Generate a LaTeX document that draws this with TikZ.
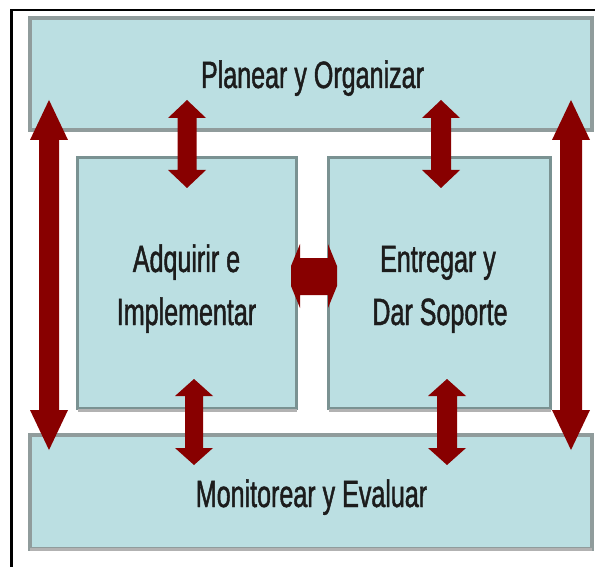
\documentclass[tikz,border=0pt]{standalone}
\usepackage{fontspec}
\newfontfamily\lblfont[FakeStretch=0.66,FakeBold=1.2]{Liberation Sans}
\definecolor{boxfill}{HTML}{BBDFE2}
\definecolor{outeredge}{HTML}{909C9C}
\definecolor{inneredge}{HTML}{7A9292}
\definecolor{shadowgray}{HTML}{B2B2B2}
\definecolor{arrowred}{HTML}{880000}
\definecolor{txt}{HTML}{1C1C1C}
\newcommand{\vdblarrow}[6]{%
  \fill[arrowred] (#1,#2) -- (#1+#5,#2+#6) -- (#1+#4,#2+#6) -- (#1+#4,#3-#6)
    -- (#1+#5,#3-#6) -- (#1,#3) -- (#1-#5,#3-#6) -- (#1-#4,#3-#6)
    -- (#1-#4,#2+#6) -- (#1-#5,#2+#6) -- cycle;}
\tikzset{
  outerbox/.style={rectangle, fill=boxfill, draw=outeredge, line width=4pt, inner sep=0pt, outer sep=0pt},
  innerbox/.style={rectangle, fill=boxfill, draw=inneredge, line width=3pt, inner sep=0pt, outer sep=0pt},
  shadowline/.style={draw=shadowgray, line width=3pt},
  lbl/.style={font=\lblfont\fontsize{38}{46}\selectfont, text=txt, inner sep=0pt, anchor=base},
}
\begin{document}
\begin{tikzpicture}[x=1pt,y=-1pt]
\useasboundingbox (0,0) rectangle (595,567);
\fill[white] (0,0) rectangle (595,567);
% frame
\draw[black, line width=2.5pt] (11.5,567) -- (11.5,10) -- (595,10);
% boxes
\node[outerbox, minimum width=562pt, minimum height=112pt] (plan) at (311,74) {};
\node[outerbox, minimum width=562pt, minimum height=114pt] (mon) at (311,492) {};
\draw[shadowline] (mon.south west) -- (mon.south east);
\node[innerbox, minimum width=219pt, minimum height=251pt] (adq) at (187,283) {};
\draw[shadowline] ([yshift=-2pt]adq.south west) -- ([yshift=-2pt]adq.south east);
\node[innerbox, minimum width=222pt, minimum height=251pt] (ent) at (439.5,283) {};
\draw[shadowline] ([yshift=-2pt]ent.south west) -- ([yshift=-2pt]ent.south east);
% labels
\node[lbl] (tplan) at (312.5,88) {Planear y Organizar};
\node[lbl] (tadq1) at (186.5,272) {Adquirir e};
\node[lbl] (tadq2) at (186.5,325) {Implementar};
\node[lbl] (tent1) at (438,272) {Entregar y};
\node[lbl] (tent2) at (440,325) {Dar Soporte};
\node[lbl] (tmon) at (311.5,507) {Monitorear y Evaluar};
% arrows
\vdblarrow{49}{100}{450}{10}{19}{40}
\vdblarrow{571}{100}{450}{11}{19}{40}
\vdblarrow{187}{100}{188}{9.5}{19}{18}
\vdblarrow{441}{100}{188}{10}{19}{18}
\vdblarrow{194}{379}{465}{9}{19}{17}
\vdblarrow{447}{379}{465}{10}{19}{17}
\fill[arrowred] (291,266) -- (300,244) -- (300,258) -- (328,258) -- (328,244)
  -- (337,266) -- (337,286) -- (328,308) -- (328,295) -- (300,295) -- (300,308)
  -- (291,286) -- cycle;
\end{tikzpicture}
\end{document}
